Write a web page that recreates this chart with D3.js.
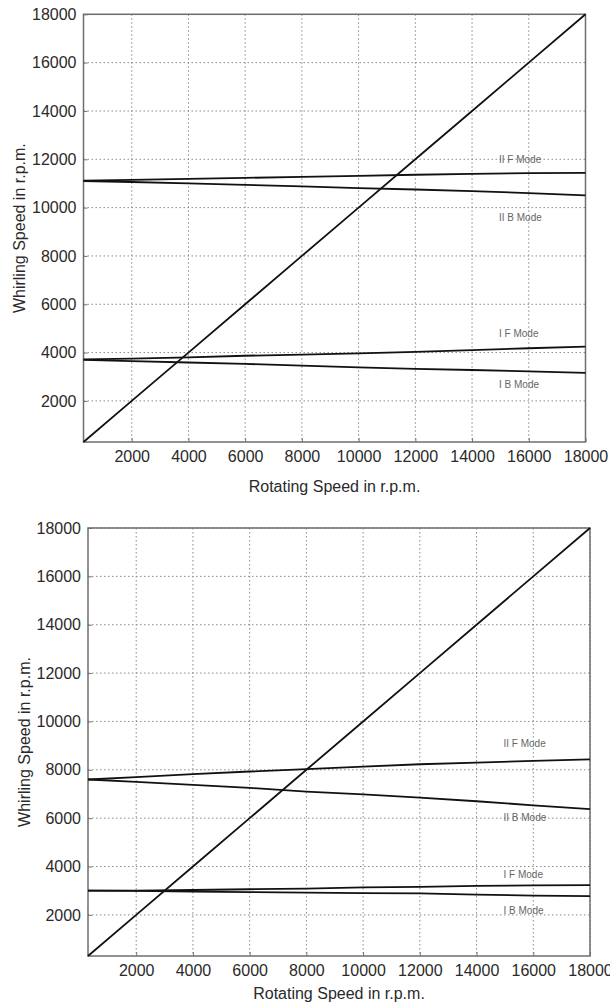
<!DOCTYPE html>
<html>
<head>
<meta charset="utf-8">
<script src="https://cdn.jsdelivr.net/npm/d3@7"></script>
<style>
  body { margin: 0; background: #fff; }
  svg { display: block; }
  text { font-family: "Liberation Sans", Arial, sans-serif; }
</style>
</head>
<body>
<div id="graf"></div>
<script>
// I. Datos
rpm = [300, 2000, 4000, 6000, 8000, 10000, 12000, 14000, 16000, 18000]
ticks = [2000, 4000, 6000, 8000, 10000, 12000, 14000, 16000, 18000]
modos = ['II F Mode', 'II B Mode', 'I F Mode', 'I B Mode']

// grafica de arriba
arribaIIF = [11120, 11150, 11190, 11230, 11270, 11310, 11360, 11400, 11430, 11440]
arribaIIB = [11100, 11060, 11000, 10940, 10880, 10810, 10750, 10680, 10600, 10510]
arribaIF  = [3720, 3750, 3800, 3870, 3920, 3970, 4030, 4100, 4180, 4250]
arribaIB  = [3700, 3650, 3590, 3530, 3460, 3390, 3330, 3280, 3220, 3160]
arribaEtiq = [11990, 9590, 4770, 2700]

// grafica de abajo
abajoIIF = [7600, 7700, 7820, 7930, 8030, 8130, 8230, 8300, 8370, 8430]
abajoIIB = [7600, 7500, 7380, 7250, 7100, 6980, 6850, 6700, 6530, 6370]
abajoIF  = [3000, 3000, 3030, 3060, 3090, 3140, 3160, 3200, 3220, 3235]
abajoIB  = [3000, 2990, 2960, 2940, 2920, 2900, 2890, 2840, 2800, 2780]
abajoEtiq = [9070, 6010, 3650, 2200]

etiqX = 14950

// II. Configuracion
ancho_total = 610
alto_total = 1004

svg = d3.select('#graf').append('svg')
        .attr('width', ancho_total)
        .attr('height', alto_total)

function grafica(caja, series, etiq) {
  x = d3.scaleLinear().domain([300, 18000]).range([caja.left, caja.right])
  y = d3.scaleLinear().domain([300, 18000]).range([caja.bottom, caja.top])

  g = svg.append('g')

  // rejilla punteada
  g.selectAll('.gx').data(ticks).enter()
    .append('line')
      .attr('x1', d => x(d)).attr('x2', d => x(d))
      .attr('y1', caja.top).attr('y2', caja.bottom)
      .attr('stroke', '#8a8a8a')
      .attr('stroke-width', 1)
      .attr('stroke-dasharray', '1.5,2.5')
  g.selectAll('.gy').data(ticks).enter()
    .append('line')
      .attr('y1', d => y(d)).attr('y2', d => y(d))
      .attr('x1', caja.left).attr('x2', caja.right)
      .attr('stroke', '#8a8a8a')
      .attr('stroke-width', 1)
      .attr('stroke-dasharray', '1.5,2.5')

  // ejes
  xAxisCall = d3.axisBottom(x).tickValues(ticks).tickSize(-4).tickPadding(9).tickFormat(d => d + '')
  yAxisCall = d3.axisLeft(y).tickValues(ticks).tickSize(-4).tickPadding(7).tickFormat(d => d + '')

  xg = g.append('g')
        .attr('transform', `translate(0, ${ caja.bottom })`)
        .call(xAxisCall)
  yg = g.append('g')
        .attr('transform', `translate(${ caja.left }, 0)`)
        .call(yAxisCall)

  ;[xg, yg].forEach(a => {
    a.select('.domain').remove()
    a.selectAll('line').attr('stroke', '#777')
    a.selectAll('text')
      .attr('fill', '#2a2a2a')
      .style('font-size', '16px')
      .style('font-family', '"Liberation Sans", Arial, sans-serif')
  })

  // marco
  g.append('rect')
    .attr('x', caja.left).attr('y', caja.top)
    .attr('width', caja.right - caja.left)
    .attr('height', caja.bottom - caja.top)
    .attr('fill', 'none')
    .attr('stroke', '#6e6e6e')
    .attr('stroke-width', 1.5)

  // curvas
  linea = d3.line()
            .x((d, i) => x(rpm[i]))
            .y(d => y(d))

  g.append('path')
    .datum(rpm)
    .attr('d', linea)
    .attr('fill', 'none')
    .attr('stroke', '#111')
    .attr('stroke-width', 1.8)

  series.forEach(s => {
    g.append('path')
      .datum(s)
      .attr('d', linea)
      .attr('fill', 'none')
      .attr('stroke', '#111')
      .attr('stroke-width', 1.8)
  })

  g.selectAll('.etiq').data(modos).enter()
    .append('text')
      .attr('x', x(etiqX))
      .attr('y', (d, i) => y(etiq[i]))
      .attr('dy', '0.35em')
      .attr('fill', '#666')
      .style('font-size', '10px')
      .text(d => d)

  // titulos
  g.append('text')
    .attr('x', (caja.left + caja.right) / 2)
    .attr('y', caja.bottom + caja.xlab)
    .attr('text-anchor', 'middle')
    .attr('fill', '#2a2a2a')
    .style('font-size', '16px')
    .text('Rotating Speed in r.p.m.')

  g.append('text')
    .attr('transform', `translate(${ caja.ylab }, ${ (caja.top + caja.bottom) / 2 }) rotate(-90)`)
    .attr('text-anchor', 'middle')
    .attr('fill', '#2a2a2a')
    .style('font-size', '16px')
    .text('Whirling Speed in r.p.m.')
}

// III. Despliegue
grafica({ left: 83.5, right: 585.5, top: 14.3, bottom: 442, xlab: 50, ylab: 25 },
        [arribaIIF, arribaIIB, arribaIF, arribaIB], arribaEtiq)
grafica({ left: 88, right: 590, top: 528, bottom: 956, xlab: 43, ylab: 30 },
        [abajoIIF, abajoIIB, abajoIF, abajoIB], abajoEtiq)
</script>
</body>
</html>
